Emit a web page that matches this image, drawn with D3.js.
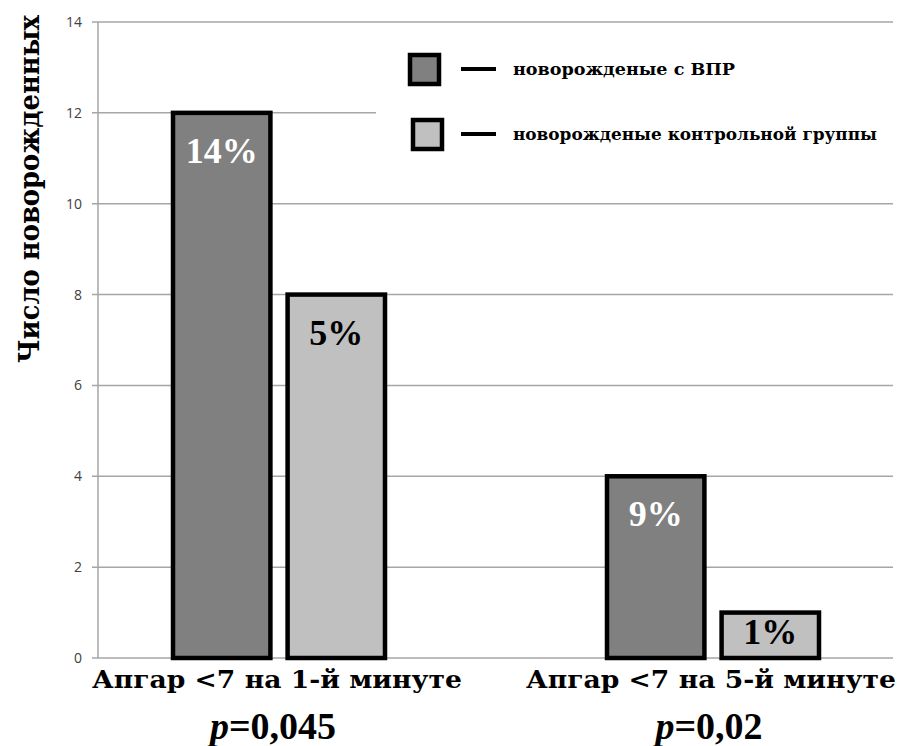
<!DOCTYPE html>
<html><head><meta charset="utf-8">
<script src="https://cdn.jsdelivr.net/npm/d3@7"></script>
<style>body{margin:0;background:#fff}svg{display:block}</style>
</head><body>
<svg id="c" width="897" height="746"></svg>
<script>
const categories = ["Апгар <7 на 1-й минуте", "Апгар <7 на 5-й минуте"];
const series = ["новорожденые с ВПР", "новорожденые контрольной группы"];
const valuesVPR = [12, 4];
const valuesControl = [8, 1];
const labelsVPR = ["14%", "9%"];
const labelsControl = ["5%", "1%"];
const pValues = ["0,045", "0,02"];
const yTicks = [0, 2, 4, 6, 8, 10, 12, 14];
const yTitle = "Число новорожденных";

const colors = ["#808080", "#c0c0c0"];
const labelColors = ["#ffffff", "#000000"];
const serif = "Liberation Serif, Times New Roman, Times, serif";
const svg = d3.select("#c");
const y = d3.scaleLinear().domain([0, 14]).range([658, 22]);
const x0 = d3.scaleBand().domain(categories).range([62, 930]);
const x1 = d3.scaleBand().domain(series).range([-106, 106]).paddingInner(0.15);
const axisX = 98;

// gridlines
const grid = svg.append("g");
yTicks.forEach(t => {
  grid.append("line").attr("x1", axisX - 6).attr("x2", 893)
    .attr("y1", y(t)).attr("y2", y(t))
    .attr("stroke", "#a6a6a6").attr("stroke-width", 1.5);
});
svg.append("line").attr("x1", axisX).attr("x2", axisX).attr("y1", y(14)).attr("y2", y(0))
  .attr("stroke", "#a6a6a6").attr("stroke-width", 1.5);

const yAxis = d3.axisLeft(y).tickValues(yTicks).tickSize(0).tickPadding(0);
const ga = svg.append("g").attr("transform", `translate(${axisX - 16},0)`).call(yAxis);
ga.select(".domain").remove();
ga.selectAll("text").attr("font-family", "Open Sans, Liberation Sans, sans-serif")
  .attr("font-size", 14).attr("fill", "#404040");

svg.append("rect").attr("x", 376).attr("y", 36).attr("width", 521).attr("height", 130).attr("fill", "#fff");

const data = [];
categories.forEach((c, i) => {
  data.push({cat: c, s: series[0], v: valuesVPR[i], lab: labelsVPR[i], k: 0});
  data.push({cat: c, s: series[1], v: valuesControl[i], lab: labelsControl[i], k: 1});
});
const bars = svg.append("g");
data.forEach(d => {
  const cx = x0(d.cat) + x0.bandwidth() / 2 + x1(d.s);
  bars.append("rect").attr("x", cx).attr("y", y(d.v))
    .attr("width", x1.bandwidth()).attr("height", y(0) - y(d.v))
    .attr("fill", colors[d.k]).attr("stroke", "#000").attr("stroke-width", 4.5);
  const ty = Math.min(y(d.v) + 50, (y(d.v) + y(0)) / 2 + 9);
  bars.append("text").attr("x", cx + x1.bandwidth() / 2).attr("y", ty)
    .attr("text-anchor", "middle").attr("font-family", serif)
    .attr("font-weight", "bold").attr("font-size", 36).attr("fill", labelColors[d.k])
    .text(d.lab);
});

categories.forEach((c, i) => {
  const cx = x0(c) + x0.bandwidth() / 2;
  svg.append("text").attr("x", cx - 2).attr("y", 688).attr("text-anchor", "middle")
    .attr("font-family", "DejaVu Serif, serif").attr("font-weight", "bold").attr("font-size", 24)
    .attr("textLength", 370).attr("lengthAdjust", "spacingAndGlyphs").attr("fill", "#000").text(c);
  const t = svg.append("text").attr("x", cx - 4 + (i === 1 ? 0 : -2)).attr("y", 739).attr("text-anchor", "middle")
    .attr("font-family", serif).attr("font-weight", "bold").attr("font-size", 38).attr("fill", "#000");
  t.append("tspan").attr("font-style", "italic").text("p");
  t.append("tspan").text("=" + pValues[i]);
});

svg.append("text").attr("transform", "translate(39,189) rotate(-90)").attr("text-anchor", "middle")
  .attr("font-family", "DejaVu Serif, serif").attr("font-weight", "bold").attr("font-size", 27)
  .attr("textLength", 348).attr("lengthAdjust", "spacingAndGlyphs").attr("fill", "#000").text(yTitle);

const legY = [53, 118], legX = [408, 411], legW = [222, 364];
series.forEach((s, i) => {
  const g = svg.append("g");
  g.append("rect").attr("x", legX[i] + 2).attr("y", legY[i] + 2).attr("width", 29).attr("height", 29)
    .attr("fill", colors[i]).attr("stroke", "#000").attr("stroke-width", 4.5);
  g.append("line").attr("x1", 461).attr("x2", 496).attr("y1", legY[i] + 16).attr("y2", legY[i] + 16)
    .attr("stroke", "#000").attr("stroke-width", 4);
  g.append("text").attr("x", 513).attr("y", legY[i] + 22)
    .attr("font-family", "DejaVu Serif, serif").attr("font-weight", "bold").attr("font-size", 16)
    .attr("textLength", legW[i]).attr("lengthAdjust", "spacingAndGlyphs").attr("fill", "#000").text(s);
});
</script>
</body></html>
